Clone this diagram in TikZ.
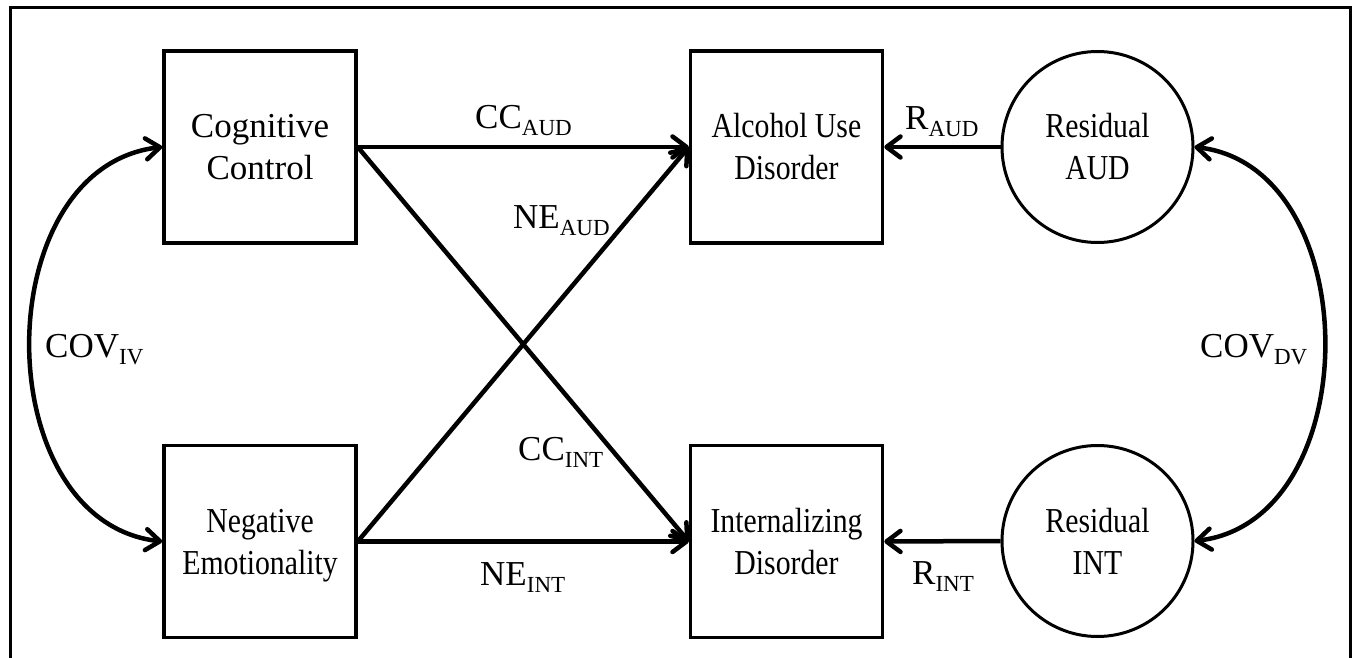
\documentclass[tikz,border=0pt]{standalone}
\usepackage{fontspec}
\setmainfont{Liberation Serif}
\newfontfamily\narrowserif{Liberation Serif}[FakeStretch=0.85]
\usetikzlibrary{arrows.meta}
% lowered subscript used in path labels
\newcommand\lblsub[1]{\raisebox{-7pt}{\fontsize{23}{23}\selectfont #1}}

\begin{document}
\begin{tikzpicture}[x=1pt,y=1pt,
  boxtext/.style={align=center, inner sep=0pt,
    execute at begin node={\rule{0pt}{24pt}}},
  varbox/.style={boxtext, draw, line width=3.5pt, rectangle,
    minimum width=192pt, minimum height=192pt,
    font=\fontsize{35}{42}\selectfont},
  narrowbox/.style={varbox, font={\narrowserif\fontsize{35}{42}\selectfont}},
  residual/.style={boxtext, draw, line width=3pt, circle,
    minimum size=191pt, font={\narrowserif\fontsize{35}{42}\selectfont}},
  pathlabel/.style={anchor=base west, inner sep=0pt,
    font=\fontsize{35}{42}\selectfont},
  barb/.tip={Straight Barb[length=14pt,width=21pt,line cap=round,line join=round]},
  conn/.style={line width=4.5pt, -barb},
  covar/.style={line width=4.5pt, barb-barb}
]
\useasboundingbox (0,0) rectangle (1352,-658);

% open frame
\draw[line width=3pt] (10,-658) -- (10,-8) -- (1350,-8) -- (1350,-658);

% predictors
\node[varbox] (cc) at (260,-147) {Cognitive\\Control};
\node[narrowbox] (ne) at (260,-541.5) {Negative\\\raisebox{0pt}[\height][0pt]{Emotionality}};

% outcomes
\node[narrowbox] (aud) at (786.5,-147) {Alcohol Use\\Disorder};
\node[narrowbox] (int) at (786.5,-541.5) {Internalizing\\Disorder};

% residuals
\node[residual] (raud) at (1097.5,-147) {Residual\\AUD};
\node[residual] (rint) at (1097.5,-541) {Residual\\INT};

% paths
\draw[conn] (cc.east) -- (aud.west);
\draw[conn] (ne.east) -- (aud.west);
\draw[conn] (cc.east) -- (int.west);
\draw[conn] (ne.east) -- (int.west);
\draw[conn] (raud.west) -- (aud.east);
\draw[conn] (rint.west) -- (int.east);

% covariances
\draw[covar] (cc.west) .. controls +(-176,-20) and +(-176,20) .. (ne.west);
\draw[covar] (raud.east) .. controls +(173,-20) and +(173,20) .. (rint.east);

% path labels
\node[pathlabel] (lccaud) at (475,-129) {CC\lblsub{AUD}};
\node[pathlabel] (lneaud) at (513,-228) {NE\lblsub{AUD}};
\node[pathlabel] (lccint) at (518,-460) {CC\lblsub{INT}};
\node[pathlabel] (lneint) at (480,-585) {NE\lblsub{INT}};
\node[pathlabel] (lraud) at (905,-130) {R\lblsub{AUD}};
\node[pathlabel] (lrint) at (912,-584) {R\lblsub{INT}};
\node[pathlabel] (lcoviv) at (45,-357) {COV\lblsub{IV}};
\node[pathlabel] (lcovdv) at (1200,-357) {COV\lblsub{DV}};
\end{tikzpicture}
\end{document}
